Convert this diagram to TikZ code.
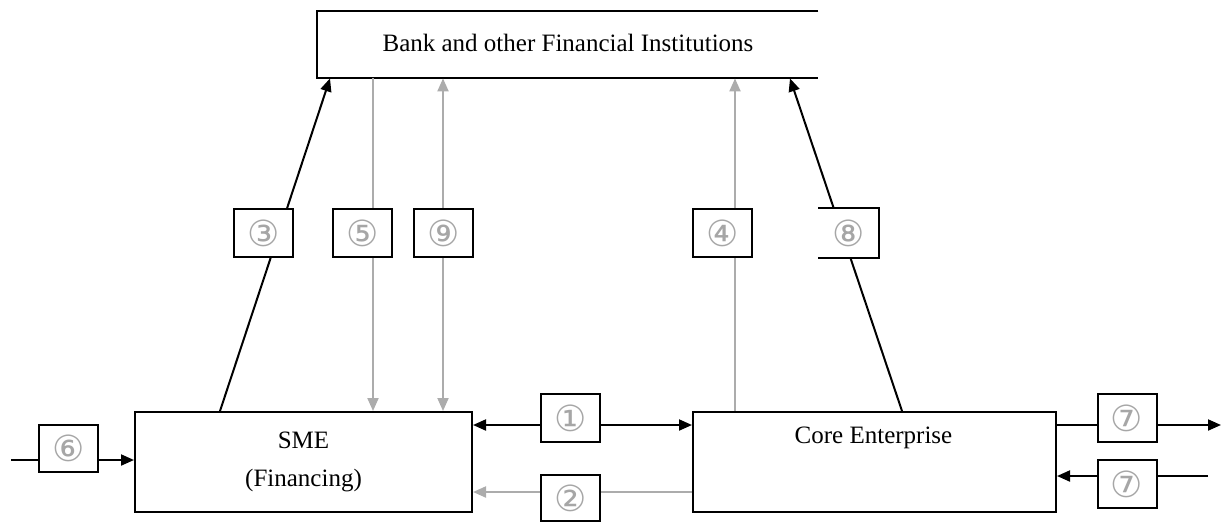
\documentclass[tikz,border=0pt]{standalone}
\usepackage{fontspec}
\setmainfont{Liberation Serif}
\newfontfamily\circfont{DejaVu Sans}
\usetikzlibrary{arrows.meta}
\begin{document}
\begin{tikzpicture}[x=1pt,y=-1pt,
  box/.style={draw=black,line width=2pt,fill=white,inner sep=0pt,anchor=north west},
  lbl/.style={draw=black,line width=2pt,fill=white,inner sep=0pt,minimum width=59pt,minimum height=48pt,
     font=\circfont\fontsize{36}{36}\selectfont,text=gray!70},
  blk/.style={line width=2pt,draw=black},
  gry/.style={line width=2pt,draw=gray!65},
  tip/.style={-{Triangle[length=13pt,width=11pt]}},
  tips/.style={{Triangle[length=13pt,width=11pt]}-{Triangle[length=13pt,width=11pt]}},
  txt/.style={font=\fontsize{25}{38}\selectfont}
]
\useasboundingbox (0,0) rectangle (1222,523);

% main boxes
\node[inner sep=0pt,anchor=north west,minimum width=501pt,minimum height=67pt,fill=white] (bank) at (317,11) {};
\node[txt] at (568,43) {Bank and other Financial Institutions};
\node[box,minimum width=337pt,minimum height=100pt,txt,align=center] (sme) at (134,411) {SME\\(Financing)};
\node[box,minimum width=363pt,minimum height=100pt] (core) at (692,411) {};
\node[txt] at (873.5,438) {Core Enterprise};
\draw[line width=2pt] (bank.north east) -- (bank.north west) -- (bank.south west) -- (bank.south east);

% connectors
\draw[blk,tip] (sme.north -| 220,0) -- (bank.south -| 330,0);
\draw[gry,tip] (bank.south -| 373,0) -- (sme.north -| 373,0);
\draw[gry,tips] (sme.north -| 443,0) -- (bank.south -| 443,0);
\draw[gry,tip] (core.north -| 735,0) -- (bank.south -| 735,0);
\draw[blk,tip] (core.north -| 902,0) -- (bank.south -| 790,0);
\draw[blk,tips] (sme.east |- 0,425) -- (core.west |- 0,425);
\draw[gry,tip] (core.west |- 0,492) -- (sme.east |- 0,492);
\coordinate (in6) at (11,460);
\draw[blk,tip] (in6) -- (sme.west |- in6);
\coordinate (out7) at (1221,425);
\draw[blk,tip] (core.east |- out7) -- (out7);
\coordinate (in7) at (1208,476);
\draw[blk,tip] (in7) -- (core.east |- in7);

% label boxes
\node[lbl] (l3) at (263.5,233) {③};
\node[lbl] (l5) at (362.5,233) {⑤};
\node[lbl] (l9) at (443.5,233) {⑨};
\node[lbl] (l4) at (722.5,233) {④};
\node[lbl,draw=none] (l8) at (848.5,233) {⑧};
\draw[line width=2pt] (l8.north west) -- (l8.north east) -- (l8.south east) -- (l8.south west);
\node[lbl] (l1) at (570.5,418) {①};
\node[lbl,minimum height=46pt] (l2) at (570.5,498) {②};
\node[lbl,minimum height=47pt] (l6) at (68.5,448.5) {⑥};
\node[lbl] (l7a) at (1127,418) {⑦};
\node[lbl] (l7b) at (1127,484) {⑦};
\end{tikzpicture}
\end{document}
